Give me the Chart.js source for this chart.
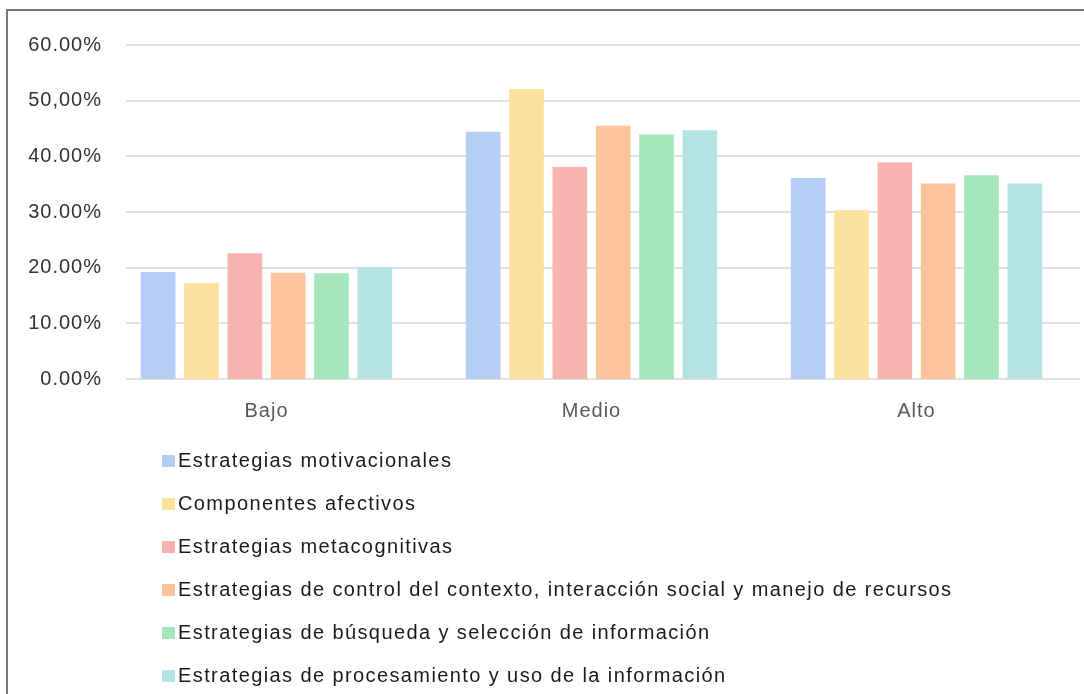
<!DOCTYPE html>
<html>
<head>
<meta charset="utf-8">
<script src="https://cdn.jsdelivr.net/npm/chart.js@4"></script>
<style>
  html, body { margin: 0; padding: 0; background: #fff; overflow: hidden; }
  #frame { position: absolute; left: 6px; top: 9px; width: 1100px; height: 720px; border: 2px solid #777; }
  #wrap { position: absolute; left: 0; top: 0; width: 1084px; height: 694px; }
  #legend { position: absolute; left: 162px; top: 439px; font-family: "Liberation Sans", Arial, sans-serif; font-size: 20px; letter-spacing: 1.4px; color: #1a1a1a; }
  .item { height: 43px; display: flex; align-items: center; white-space: nowrap; }
  .box { width: 13px; height: 12px; margin-right: 3px; }
</style>
</head>
<body>
<div id="frame"></div>
<div id="wrap"><canvas id="chart" width="1084" height="694"></canvas></div>
<div id="legend"></div>
<script>
const categories = ['Bajo', 'Medio', 'Alto'];
const seriesNames = [
    'Estrategias motivacionales',
    'Componentes afectivos',
    'Estrategias metacognitivas',
    'Estrategias de control del contexto, interacción social y manejo de recursos',
    'Estrategias de búsqueda y selección de información',
    'Estrategias de procesamiento y uso de la información'
];
const motivacionales = [19.2, 44.4, 36.1];
const afectivos = [17.2, 52.1, 30.3];
const metacognitivas = [22.6, 38.1, 38.9];
const controlContexto = [19.1, 45.5, 35.1];
const busqueda = [19.0, 43.9, 36.6];
const procesamiento = [20.1, 44.7, 35.1];
const yTickLabels = ['0.00%', '10.00%', '20.00%', '30.00%', '40.00%', '50,00%', '60.00%'];

const seriesValues = [motivacionales, afectivos, metacognitivas, controlContexto, busqueda, procesamiento];
const colors = ['#b4cdf5', '#fde19f', '#f8b3b0', '#fdc39c', '#a5e5bb', '#b3e3e5'];

// horizontal grid lines start a bit right of the plot's left edge, like the original
const gridPlugin = {
    id: 'hgrid',
    beforeDraw(chart) {
        chart.ctx.letterSpacing = '1px';
    },
    beforeDatasetsDraw(chart) {
        const ctx = chart.ctx;
        const y = chart.scales.y;
        const area = chart.chartArea;
        ctx.save();
        ctx.strokeStyle = '#e0e0e0';
        ctx.lineWidth = 2;
        y.ticks.forEach(t => {
            const py = Math.round(y.getPixelForValue(t.value));
            ctx.beginPath();
            ctx.moveTo(area.left + 22, py);
            ctx.lineTo(area.right + 1, py);
            ctx.stroke();
        });
        ctx.restore();
    }
};

const chart = new Chart(document.getElementById('chart'), {
    type: 'bar',
    data: {
        labels: categories,
        datasets: seriesNames.map((name, i) => ({
            label: name,
            data: seriesValues[i],
            backgroundColor: colors[i],
            borderWidth: 0,
            barPercentage: 0.8,
            categoryPercentage: 0.8
        }))
    },
    options: {
        responsive: false,
        animation: false,
        layout: { padding: { top: 45, right: 5, left: 0, bottom: 0 } },
        plugins: {
            legend: { display: false },
            tooltip: { enabled: false }
        },
        scales: {
            x: {
                grid: { display: false, drawTicks: false },
                border: { display: false },
                ticks: {
                    color: '#595959',
                    padding: 20,
                    font: { family: '"Liberation Sans", Arial, sans-serif', size: 20 }
                },
                afterFit(axis) { axis.height = 694 - 379; }
            },
            y: {
                min: 0,
                max: 60,
                grid: { display: false, drawTicks: false },
                border: { display: false },
                ticks: {
                    stepSize: 10,
                    padding: 2,
                    color: '#333',
                    font: { family: '"Liberation Sans", Arial, sans-serif', size: 20 },
                    callback: v => yTickLabels[v / 10]
                },
                afterFit(axis) { axis.width = 104; }
            }
        }
    },
    plugins: [gridPlugin]
});

// legend as a one-per-line list
const legendEl = document.getElementById('legend');
chart.data.datasets.forEach(ds => {
    const row = document.createElement('div');
    row.className = 'item';
    const box = document.createElement('span');
    box.className = 'box';
    box.style.background = ds.backgroundColor;
    const txt = document.createElement('span');
    txt.textContent = ds.label;
    row.appendChild(box);
    row.appendChild(txt);
    legendEl.appendChild(row);
});
</script>
</body>
</html>
